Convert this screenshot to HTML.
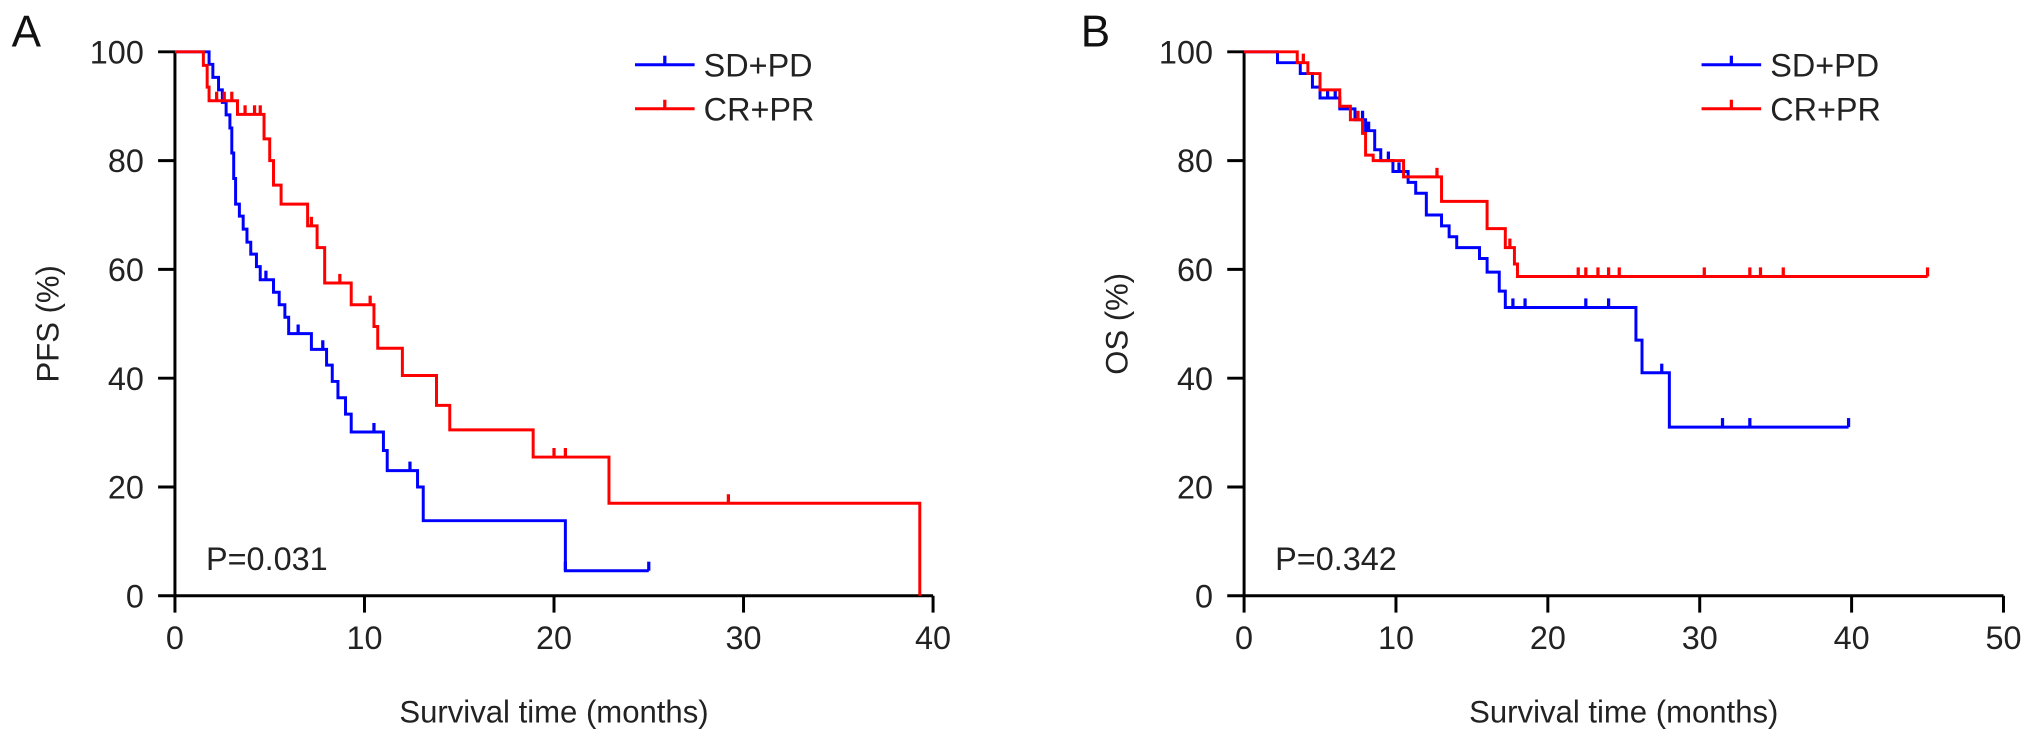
<!DOCTYPE html>
<html><head><meta charset="utf-8"><style>
html,body{margin:0;padding:0;background:#fff;}
svg{display:block;font-family:"Liberation Sans",Arial,sans-serif;}
</style></head><body>
<svg id="fig" width="2032" height="746" viewBox="0 0 1568 576" preserveAspectRatio="none" xmlns="http://www.w3.org/2000/svg"></svg>
<script>
// ---- Panel A (PFS) data ----
const aXTicks = [0, 10, 20, 30, 40];
const aYTicks = [0, 20, 40, 60, 80, 100];
const aBlueT = [0,1.8,2.0,2.3,2.5,2.7,2.9,3.0,3.1,3.2,3.4,3.6,3.8,4.0,4.3,4.5,5.2,5.5,5.8,6.0,7.2,8.0,8.3,8.6,9.0,9.3,11.0,11.2,12.8,13.1,20.6,25];
const aBlueS = [100,97.7,95.3,93,90.7,88.4,86,81.4,76.7,72,69.8,67.4,65,62.8,60.5,58.1,55.8,53.5,51.2,48.2,45.3,42.4,39.4,36.4,33.4,30.1,26.7,23,20,13.8,4.6,4.6];
const aBlueCens = [4.8,6.5,7.8,10.5,12.4,20.6,25];
const aRedT = [0,1.5,1.7,1.8,3.3,4.7,5.0,5.2,5.6,7.0,7.5,7.9,9.3,10.5,10.7,12.0,13.8,14.5,18.9,22.9,39.3];
const aRedS = [100,97.5,93.5,91,88.5,84,80,75.5,72,68,64,57.5,53.5,49.5,45.5,40.5,35,30.5,25.5,17,0];
const aRedCens = [2.2,2.6,3.0,3.7,4.2,4.5,7.2,8.7,10.3,20.0,20.6,29.2];
// ---- Panel B (OS) data ----
const bXTicks = [0, 10, 20, 30, 40, 50];
const bYTicks = [0, 20, 40, 60, 80, 100];
const bBlueT = [0,2.2,3.7,4.5,5.0,6.3,7.3,8.0,8.6,9.0,9.8,10.8,11.3,12.0,13.0,13.5,14.0,15.5,16.0,16.8,17.2,25.8,26.2,28.0,39.8];
const bBlueS = [100,98,96,93.5,91.5,89.5,87.5,85.5,82,80,78,76,74,70,68,66,64,62,59.5,56,53,47,41,31,31];
const bBlueCens = [5.5,6.0,7.8,8.2,9.5,10.2,17.7,18.5,22.5,24,27.5,31.5,33.3,39.8];
const bRedT = [0,3.5,4.2,5.0,6.3,7.0,7.8,8.0,8.5,10.5,13.0,16.0,17.2,17.8,18.0,45];
const bRedS = [100,98,96,93,90,87.5,85,81,80,77,72.5,67.5,64,61,58.7,58.7];
const bRedCens = [3.9,7.5,12.7,17.5,22,22.5,23.3,24,24.7,30.3,33.3,34,35.5,45];

const NS = "http://www.w3.org/2000/svg";
const svg = document.getElementById('fig');
function mk(tag, attrs, parent){const e=document.createElementNS(NS,tag);for(const k in attrs)e.setAttribute(k,attrs[k]);(parent||svg).appendChild(e);return e;}
function txt(s, attrs, parent){const e=mk('text',attrs,parent);e.textContent=s;return e;}

function panel(cfg){
  const g = mk('g',{});
  
  
  const x = v => cfg.x0 + (v - cfg.xmin) / (cfg.xmax - cfg.xmin) * (cfg.x1 - cfg.x0);
  const y = v => 460 - v / 100 * 420;
  const ya = mk('line',{x1:cfg.x0,y1:40,x2:cfg.x0,y2:461,stroke:'#000','stroke-width':2.3},g);
   
  const xa = mk('line',{x1:cfg.x0-1,y1:460,x2:cfg.x1,y2:460,stroke:'#000','stroke-width':2.3},g);
   
  cfg.yTicks.forEach(v=>{
    mk('line',{x1:cfg.x0-13,y1:y(v),x2:cfg.x0,y2:y(v),stroke:'#000','stroke-width':2.3},g);
    const t = txt(String(v),{x:cfg.x0-24,y:y(v)+9,'text-anchor':'end','font-size':25,fill:'#222'},g);
     
  });
  cfg.xTicks.forEach(v=>{
    mk('line',{x1:x(v),y1:460,x2:x(v),y2:473,stroke:'#000','stroke-width':2.3},g);
    const t = txt(String(v),{x:x(v),y:501,'text-anchor':'middle','font-size':25,fill:'#222'},g);
     
  });
  const xt = txt('Survival time (months)',{x:(cfg.x0+cfg.x1)/2,y:558,'text-anchor':'middle','font-size':24,fill:'#222'},g);
   
  const yt = txt(cfg.yTitle,{x:0,y:0,'text-anchor':'middle','font-size':24,fill:'#222',transform:`translate(${cfg.x0-90},250) rotate(-90)`},g);
   
  const pl = txt(cfg.letter,{x:cfg.x0-126,y:36,'font-size':34,fill:'#111'},g);
   
  const pv = txt(cfg.p,{x:cfg.x0+24,y:440,'font-size':25,fill:'#222'},g);
   
  cfg.series.forEach(s=>{
    let d = `M${x(s.t[0])},${y(s.s[0])}`;
    for(let i=1;i<s.t.length;i++){ d += ` H${x(s.t[i])} V${y(s.s[i])}`; }
    const p = mk('path',{d:d,fill:'none',stroke:s.color,'stroke-width':2.3},g);
     
    s.c.forEach(ct=>{
      let sv = s.s[0];
      for(let i=0;i<s.t.length;i++){ if(s.t[i] <= ct) sv = s.s[i]; }
      const m = mk('line',{x1:x(ct),y1:y(sv),x2:x(ct),y2:y(sv)-7,stroke:s.color,'stroke-width':2.5},g);
       
    });
  });
  cfg.series.forEach((s,i)=>{
    const ly = 50 + i*34;
    const lx = cfg.legX;
    const lg = mk('g',{},g);
     
    mk('line',{x1:lx,y1:ly,x2:lx+46,y2:ly,stroke:s.color,'stroke-width':2.3},lg);
    mk('line',{x1:lx+23,y1:ly,x2:lx+23,y2:ly-7,stroke:s.color,'stroke-width':2.5},lg);
    txt(s.label,{x:lx+53,y:ly+9,'font-size':25,fill:'#222'},lg);
  });
}
panel({name:'panel-a-pfs',letter:'A',x0:135,x1:720,xmin:0,xmax:40,xTicks:aXTicks,yTicks:aYTicks,yTitle:'PFS (%)',p:'P=0.031',legX:490,
  series:[{key:'sd-pd',label:'SD+PD',color:'#0000ff',t:aBlueT,s:aBlueS,c:aBlueCens},
          {key:'cr-pr',label:'CR+PR',color:'#ff0000',t:aRedT,s:aRedS,c:aRedCens}]});
panel({name:'panel-b-os',letter:'B',x0:960,x1:1546,xmin:0,xmax:50,xTicks:bXTicks,yTicks:bYTicks,yTitle:'OS (%)',p:'P=0.342',legX:1313,
  series:[{key:'sd-pd',label:'SD+PD',color:'#0000ff',t:bBlueT,s:bBlueS,c:bBlueCens},
          {key:'cr-pr',label:'CR+PR',color:'#ff0000',t:bRedT,s:bRedS,c:bRedCens}]});
</script>
</body></html>
